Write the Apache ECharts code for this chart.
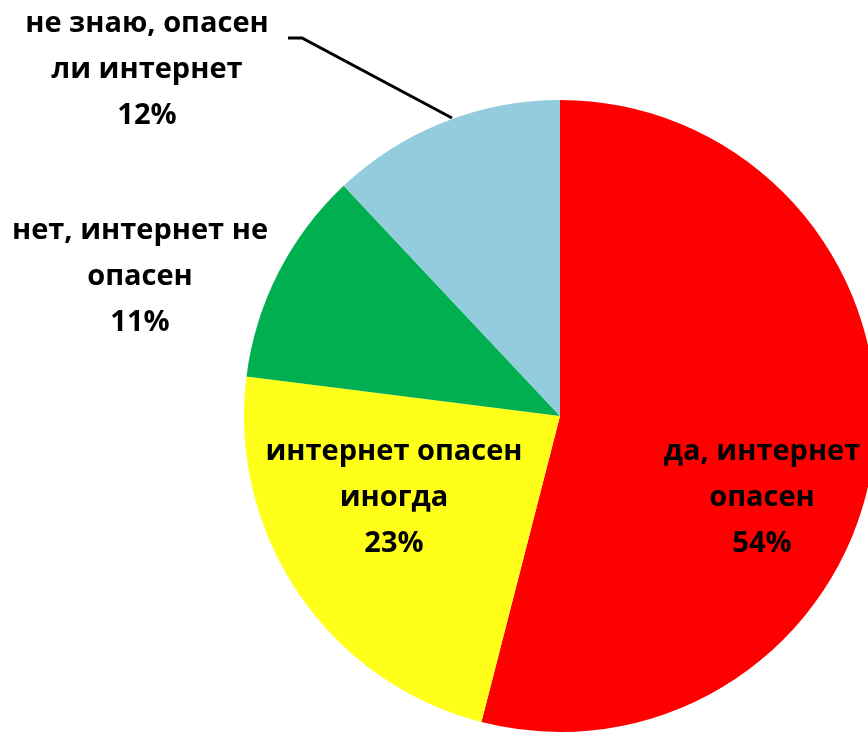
<!DOCTYPE html>
<html>
<head>
<meta charset="utf-8">
<script src="https://cdn.jsdelivr.net/npm/echarts@6/dist/echarts.min.js"></script>
<style>
  html, body { margin: 0; padding: 0; background: #fff; }
  #chart { width: 868px; height: 732px; }
</style>
</head>
<body>
<div id="chart"></div>
<script>
// ответы на вопрос: опасен ли интернет
const categories = [
  'да, интернет\nопасен',
  'интернет опасен\nиногда',
  'нет, интернет не\nопасен',
  'не знаю, опасен\nли интернет'
];
const values = [54, 23, 11, 12];
const colors = ['#FF0000', '#FFFF1A', '#00B050', '#93CDDD'];

// где стоят подписи (центр блока текста)
const labelPos = [[762, 498], [394, 498], [140, 277], [147, 70]];

const chart = echarts.init(document.getElementById('chart'));

const option = {
  animation: false,
  backgroundColor: '#fff',
  series: [{
    type: 'pie',
    center: [560, 416],
    radius: 316,
    startAngle: 90,
    clockwise: true,
    avoidLabelOverlap: false,
    itemStyle: { borderWidth: 0 },
    label: {
      show: true,
      position: 'outside',
      formatter: '{b}\n{d}%',
      color: '#000',
      fontFamily: 'Open Sans',
      fontWeight: 'bold',
      fontSize: 29,
      lineHeight: 46,
      align: 'center'
    },
    labelLine: {
      show: false,
      lineStyle: { color: '#000', width: 3 }
    },
    labelLayout: function (params) {
      const p = labelPos[params.dataIndex];
      const res = { x: p[0], y: p[1], align: 'center', verticalAlign: 'middle' };
      if (params.dataIndex === 3) {
        res.labelLinePoints = [[452, 118], [302, 38], [288, 38]];
      }
      return res;
    },
    data: categories.map((name, i) => ({
      name: name,
      value: values[i],
      itemStyle: { color: colors[i] },
      labelLine: { show: i === 3 }
    }))
  }]
};

chart.setOption(option);
</script>
</body>
</html>
